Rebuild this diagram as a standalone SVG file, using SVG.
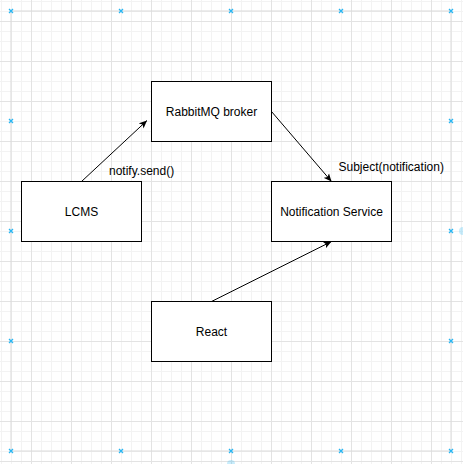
<svg xmlns="http://www.w3.org/2000/svg" width="463" height="464" viewBox="0 0 463 464">
<defs>
<pattern id="minor" patternUnits="userSpaceOnUse" x="1" y="1" width="10" height="10">
<path d="M0.5 0 V10 M0 0.5 H10" stroke="#f3f3f3" stroke-width="1" fill="none"/>
</pattern>
<pattern id="major" patternUnits="userSpaceOnUse" x="31" y="21" width="40" height="40">
<path d="M0.5 0 V40 M0 0.5 H40" stroke="#e3e3e3" stroke-width="1" fill="none"/>
</pattern>
<marker id="arrow" markerUnits="userSpaceOnUse" viewBox="0 0 8 8" markerWidth="8" markerHeight="8" refX="8" refY="4" orient="auto">
<path d="M0,0.5 L8,4 L0,7.5 L2,4 Z" fill="#000"/>
</marker>
</defs>
<style>
.node rect { fill: #ffffff; stroke: #000000; stroke-width: 1; }
.node text, .label { font-family: "Liberation Sans", Arial, Helvetica, sans-serif; font-size: 12px; fill: #000000; }
.node text { text-anchor: middle; }
.edge { stroke: #000000; stroke-width: 1; fill: none; marker-end: url(#arrow); }
.handle { stroke: #29b6f2; stroke-width: 1.3; fill: none; }
</style>
<rect width="463" height="464" fill="#ffffff"/>
<rect width="463" height="464" fill="url(#minor)"/>
<rect width="463" height="464" fill="url(#major)"/>
<rect x="11" y="11" width="440" height="440" fill="none" stroke="#dadada" stroke-width="1"/>

<g id="connectors">
<line class="edge" x1="81.5" y1="181.5" x2="147" y2="120.5"/>
<line class="edge" x1="271.5" y1="111.5" x2="331.5" y2="181.5"/>
<line class="edge" x1="211.5" y1="301.5" x2="331.5" y2="241.5"/>
<text class="label" x="109" y="175">notify.send()</text>
<text class="label" x="338.5" y="170.5">Subject(notification)</text>
</g>

<g id="rabbitmq" class="node">
<rect x="151.5" y="81.5" width="120" height="60"/>
<text x="211.5" y="115.5">RabbitMQ broker</text>
</g>
<g id="lcms" class="node">
<rect x="21.5" y="181.5" width="120" height="60"/>
<text x="81.5" y="215.5">LCMS</text>
</g>
<g id="notification" class="node">
<rect x="271.5" y="181.5" width="120" height="60"/>
<text x="331.5" y="215.5">Notification Service</text>
</g>
<g id="react" class="node">
<rect x="151.5" y="301.5" width="120" height="60"/>
<text x="211.5" y="335.5">React</text>
</g>

<g id="handles">
<path class="handle" d="M9,9 l4,4 m0,-4 l-4,4 M119,9 l4,4 m0,-4 l-4,4 M229,9 l4,4 m0,-4 l-4,4 M339,9 l4,4 m0,-4 l-4,4 M449,9 l4,4 m0,-4 l-4,4 M9,119 l4,4 m0,-4 l-4,4 M449,119 l4,4 m0,-4 l-4,4 M9,229 l4,4 m0,-4 l-4,4 M449,229 l4,4 m0,-4 l-4,4 M9,339 l4,4 m0,-4 l-4,4 M449,339 l4,4 m0,-4 l-4,4 M9,449 l4,4 m0,-4 l-4,4 M119,449 l4,4 m0,-4 l-4,4 M229,449 l4,4 m0,-4 l-4,4 M339,449 l4,4 m0,-4 l-4,4 M449,449 l4,4 m0,-4 l-4,4"/>
<circle cx="463" cy="231" r="4" fill="#29b6f2" opacity="0.25"/>
<circle cx="231" cy="464" r="4" fill="#29b6f2" opacity="0.25"/>
</g>
</svg>
